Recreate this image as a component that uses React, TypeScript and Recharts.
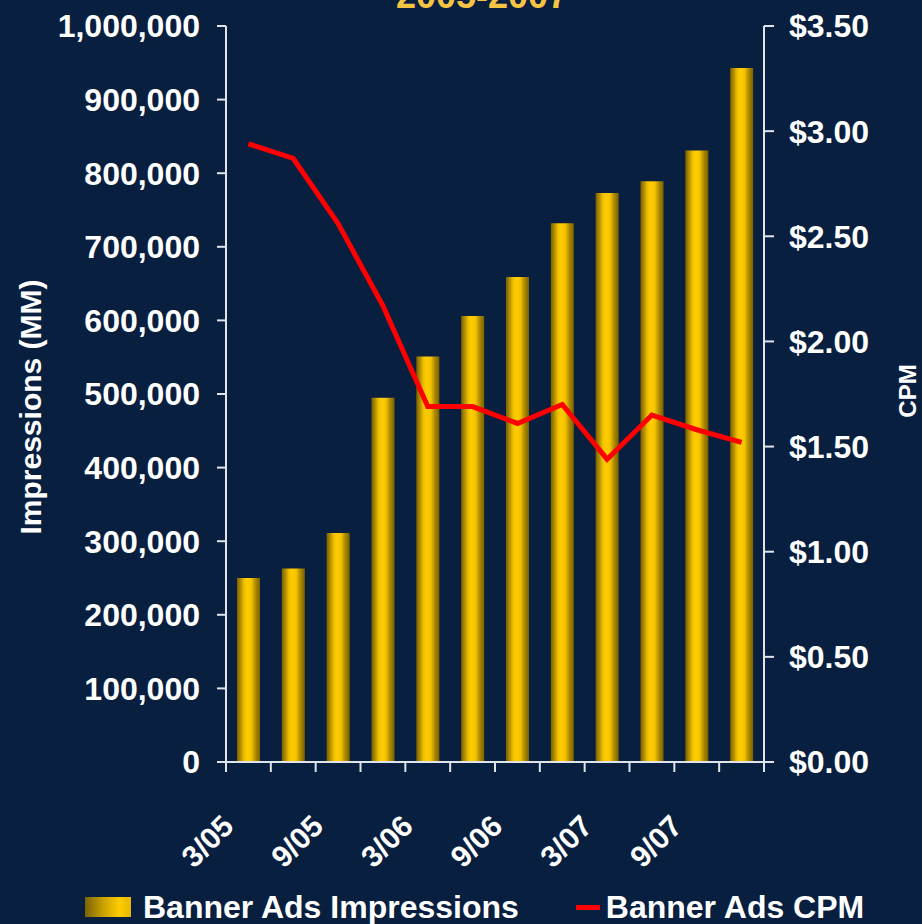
import React from 'react';
import { ComposedChart, Bar, Line, XAxis, YAxis, Legend } from 'recharts';

const categories = ['3/05', '6/05', '9/05', '12/05', '3/06', '6/06', '9/06', '12/06', '3/07', '6/07', '9/07', '12/07'];
const impressions = [250000, 263000, 311000, 495000, 551000, 606000, 659000, 732000, 773000, 789000, 831000, 943000];
const cpm = [2.94, 2.87, 2.56, 2.17, 1.69, 1.69, 1.61, 1.70, 1.44, 1.65, 1.58, 1.52];
const leftTicks = [0, 100000, 200000, 300000, 400000, 500000, 600000, 700000, 800000, 900000, 1000000];
const rightTicks = [0, 0.5, 1, 1.5, 2, 2.5, 3, 3.5];

const data = categories.map((c, i) => ({ cat: c, imp: impressions[i], cpm: cpm[i] }));

const W = 922;
const H = 924;
const LEFT_W = 226;
const RIGHT_W = 158;
const BG = '#081f3f';
const AXIS = '#dfe3ea';
const FONT = '"Liberation Sans", Arial, Helvetica, sans-serif';
const HALF_BAND = (W - LEFT_W - RIGHT_W) / categories.length / 2;

const XTick = (props: any) => {
  const { x, y, payload, index } = props;
  const showLabel = index % 2 === 0;
  const tx = x - 13;
  const ty = y + 66;
  return (
    <g>
      <line x1={x - HALF_BAND} x2={x - HALF_BAND} y1={y} y2={y + 10} stroke={AXIS} strokeWidth={2} />
      {index === categories.length - 1 && (
        <line x1={x + HALF_BAND} x2={x + HALF_BAND} y1={y} y2={y + 10} stroke={AXIS} strokeWidth={2} />
      )}
      {showLabel && (
        <text
          x={tx}
          y={ty}
          transform={`rotate(-45, ${tx}, ${ty})`}
          textAnchor="end"
          fill="#ffffff"
          fontSize={30}
          fontWeight="bold"
          fontFamily={FONT}
        >
          {payload.value}
        </text>
      )}
    </g>
  );
};

const LeftLabel = (props: any) => {
  const { viewBox } = props;
  const cx = viewBox.x + 30;
  const cy = viewBox.y + viewBox.height / 2 + 13;
  return (
    <text
      x={cx}
      y={cy}
      transform={`rotate(-90, ${cx}, ${cy})`}
      textAnchor="middle"
      dominantBaseline="central"
      fill="#ffffff"
      fontSize={30}
      fontWeight="bold"
      fontFamily={FONT}
    >
      Impressions (MM)
    </text>
  );
};

const RightLabel = (props: any) => {
  const { viewBox } = props;
  const cx = viewBox.x + 143;
  const cy = viewBox.y + viewBox.height / 2 - 3;
  return (
    <text
      x={cx}
      y={cy}
      transform={`rotate(-90, ${cx}, ${cy})`}
      textAnchor="middle"
      dominantBaseline="central"
      fill="#ffffff"
      fontSize={24}
      fontWeight="bold"
      fontFamily={FONT}
    >
      CPM
    </text>
  );
};

const LegendContent = () => (
  <div
    style={{
      display: 'flex',
      alignItems: 'center',
      justifyContent: 'flex-start',
      paddingLeft: 85,
      paddingTop: 18,
      height: 52,
      boxSizing: 'border-box',
      fontFamily: FONT,
      fontWeight: 'bold',
      fontSize: 32,
      color: '#ffffff',
      whiteSpace: 'nowrap',
    }}
  >
    <span
      style={{
        display: 'inline-block',
        width: 46,
        height: 20,
        background: 'linear-gradient(to right, #7a6200 0%, #c9a200 40%, #ffcc00 75%, #e6b800 100%)',
        marginRight: 12,
      }}
    />
    <span>Banner Ads Impressions</span>
    <span
      style={{
        display: 'inline-block',
        width: 24,
        height: 5,
        background: '#ff0000',
        marginLeft: 57,
        marginRight: 6,
      }}
    />
    <span>Banner Ads CPM</span>
  </div>
);

export default function App() {
  return (
    <div style={{ position: 'absolute', left: 0, top: 0, width: W, height: H, background: BG, overflow: 'hidden' }}>
      <div
        style={{
          position: 'absolute',
          left: 0,
          width: 964,
          top: -22,
          textAlign: 'center',
          fontFamily: FONT,
          fontWeight: 'bold',
          fontSize: 36,
          lineHeight: '36px',
          color: '#f6c443',
        }}
      >
        2005-2007
      </div>
      <ComposedChart
        width={W}
        height={H}
        data={data}
        margin={{ top: 26, right: 0, bottom: 0, left: 0 }}
        barSize={23}
      >
        <defs>
          <linearGradient id="goldBar" x1="0" y1="0" x2="1" y2="0">
            <stop offset="0%" stopColor="#7a6100" />
            <stop offset="12%" stopColor="#a48300" />
            <stop offset="32%" stopColor="#f2c200" />
            <stop offset="45%" stopColor="#ffcc00" />
            <stop offset="62%" stopColor="#f5c400" />
            <stop offset="82%" stopColor="#a88600" />
            <stop offset="100%" stopColor="#7a6100" />
          </linearGradient>
        </defs>
        <XAxis
          dataKey="cat"
          interval={0}
          height={110}
          tickSize={0}
          tickMargin={0}
          tickLine={false}
          axisLine={{ stroke: AXIS, strokeWidth: 2 }}
          tick={<XTick />}
        />
        <YAxis
          yAxisId="left"
          orientation="left"
          width={LEFT_W}
          domain={[0, 1000000]}
          ticks={leftTicks}
          interval={0}
          tickSize={9}
          tickMargin={17}
          tickLine={{ stroke: AXIS, strokeWidth: 2 }}
          axisLine={{ stroke: AXIS, strokeWidth: 2 }}
          tickFormatter={(v: number) => v.toLocaleString('en-US')}
          tick={{ fill: '#ffffff', fontSize: 32, fontWeight: 'bold', fontFamily: FONT }}
          label={<LeftLabel />}
        />
        <YAxis
          yAxisId="right"
          orientation="right"
          width={RIGHT_W}
          domain={[0, 3.5]}
          ticks={rightTicks}
          interval={0}
          tickSize={10}
          tickMargin={15}
          tickLine={{ stroke: AXIS, strokeWidth: 2 }}
          axisLine={{ stroke: AXIS, strokeWidth: 2 }}
          tickFormatter={(v: number) => `$${v.toFixed(2)}`}
          tick={{ fill: '#ffffff', fontSize: 32, fontWeight: 'bold', fontFamily: FONT }}
          label={<RightLabel />}
        />
        <Legend verticalAlign="bottom" align="left" height={52} content={<LegendContent />} />
        <Bar yAxisId="left" dataKey="imp" name="Banner Ads Impressions" fill="url(#goldBar)" isAnimationActive={false} />
        <Line
          yAxisId="right"
          dataKey="cpm"
          name="Banner Ads CPM"
          type="linear"
          stroke="#ff0000"
          strokeWidth={5}
          dot={false}
          activeDot={false}
          isAnimationActive={false}
        />
      </ComposedChart>
    </div>
  );
}
